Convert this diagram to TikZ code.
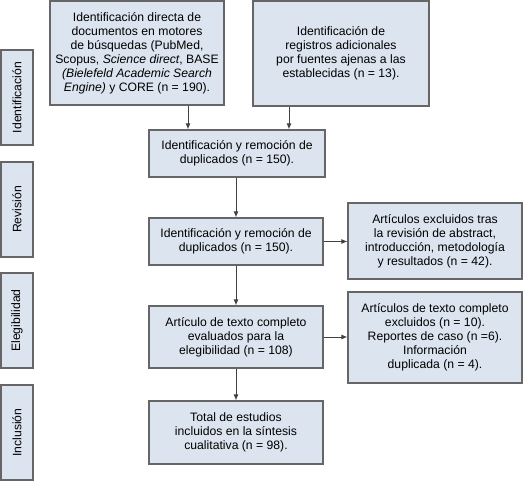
\documentclass[tikz,border=0pt]{standalone}
\usepackage{fontspec}
\setmainfont{Liberation Sans}
\usetikzlibrary{arrows.meta}
\definecolor{boxfill}{HTML}{DCE4EF}
\definecolor{boxline}{HTML}{666666}
\begin{document}
\begin{tikzpicture}[x=1pt,y=-1pt,
  flow/.style={draw=boxline,fill=boxfill,line width=1.1pt,align=center,inner sep=0pt,
    font=\fontsize{12.2}{14}\selectfont},
  side/.style={draw=boxline,fill=boxfill,line width=1.1pt,inner sep=0pt,
    minimum width=95pt,minimum height=32pt,rotate=90,font=\fontsize{12.2}{14}\selectfont},
  arr/.style={draw=black!75,line width=1pt,-{Latex[length=6pt,width=5pt]}}]
\useasboundingbox (0,0) rectangle (525,481);
\node[flow,minimum width=174pt,minimum height=104pt] (tl) at (137,53) {Identificación directa de\\ documentos en motores\\ de búsquedas (PubMed,\\ Scopus, \textit{Science direct}, BASE\\ \textit{(Bielefeld Academic Search}\\ \textit{Engine)} y CORE (n = 190).};
\node[flow,minimum width=176pt,minimum height=105pt] (tr) at (341,53.5) {Identificación de\\ registros adicionales\\ por fuentes ajenas a las\\ establecidas (n = 13).};
\node[flow,minimum width=176pt,minimum height=47pt] (dupa) at (237,153.5) {Identificación y remoción de\\ duplicados (n = 150).};
\node[flow,minimum width=174pt,minimum height=47pt] (dupb) at (236,241.5) {Identificación y remoción de\\ duplicados (n = 150).};
\node[flow,minimum width=174pt,minimum height=76pt] (exa) at (435,241) {Artículos excluidos tras\\ la revisión de abstract,\\ introducción, metodología\\ y resultados (n = 42).};
\node[flow,minimum width=174pt,minimum height=62pt] (elig) at (236,337) {Artículo de texto completo\\ evaluados para la\\ elegibilidad (n = 108)};
\node[flow,minimum width=174pt,minimum height=91pt] (exb) at (435,337.5) {Artículos de texto completo\\ excluidos (n = 10).\\ Reportes de caso (n =6).\\ Información\\ duplicada (n = 4).};
\node[flow,minimum width=174pt,minimum height=63pt] (tot) at (236,432.5) {Total de estudios\\ incluidos en la síntesis\\ cualitativa (n = 98).};
\node[side] (sid) at (17,97.5) {Identificación};
\node[side] (srev) at (17,209.5) {Revisión};
\node[side] (seli) at (17,320.5) {Elegibilidad};
\node[side] (sinc) at (17,432.5) {Inclusión};
\draw[arr] ([xshift=51pt]tl.south) -- ([xshift=51pt]tl.south |- dupa.north);
\draw[arr] ([xshift=-52pt]tr.south) -- ([xshift=-52pt]tr.south |- dupa.north);
\draw[arr] (dupa.south -| dupb.north) -- (dupb.north);
\draw[arr] (dupb.east) -- (dupb.east -| exa.west);
\draw[arr] (dupb.south) -- (elig.north);
\draw[arr] (elig.east) -- (elig.east -| exb.west);
\draw[arr] (elig.south) -- (tot.north);
\end{tikzpicture}
\end{document}
